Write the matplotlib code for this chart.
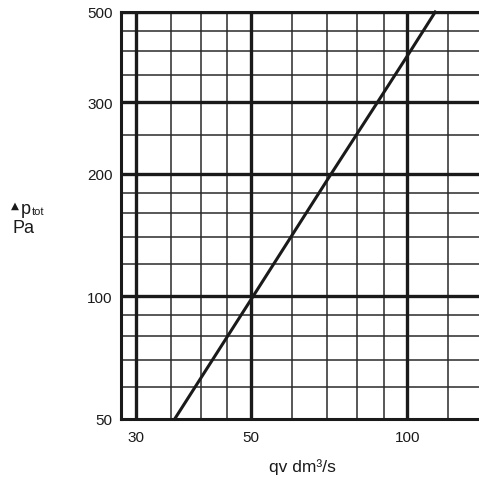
import matplotlib
matplotlib.use("Agg")
import matplotlib.pyplot as plt

plt.rcParams['font.family'] = ['Liberation Sans', 'DejaVu Sans']

# curve (flow dm3/s, pressure Pa)
qv = [35.6, 50.4, 71.3, 87.6, 101.3, 113.2]
ptot = [50, 100, 200, 300, 400, 500]

# grid lines
x_thin = [35, 40, 45, 60, 70, 80, 90, 120]
x_thick = [30, 50, 100]
y_thin = [60, 70, 80, 90, 120, 140, 160, 180, 250, 350, 400, 450]
y_thick = [100, 200, 300, 500]
x_ticks = [30, 50, 100]
y_ticks = [50, 100, 200, 300, 500]

fig = plt.figure(figsize=(4.79, 4.85), dpi=100)
ax = fig.add_axes([121 / 479, (485 - 420) / 485, 1 - 121 / 479, (420 - 13) / 485])
ax.set_xscale('log')
ax.set_yscale('log')
ax.set_xlim(28.05, 137.5)
ax.set_ylim(50, 500)

for x in x_thin:
    ax.axvline(x, color='#2a2a2a', lw=1.1, zorder=1)
for y in y_thin:
    ax.axhline(y, color='#2a2a2a', lw=1.1, zorder=1)
for x in x_thick:
    ax.axvline(x, color='#1a1a1a', lw=2.4, zorder=2)
for y in y_thick:
    ax.axhline(y, color='#1a1a1a', lw=2.4, zorder=2)

ax.plot(qv, ptot, color='#1a1a1a', lw=2.2, zorder=3, clip_on=False)

ax.spines['right'].set_visible(False)
for s in ['left', 'bottom', 'top']:
    ax.spines[s].set_linewidth(2.2)
    ax.spines[s].set_color('#1a1a1a')

ax.minorticks_off()
ax.set_xticks(x_ticks)
ax.set_xticklabels([str(v) for v in x_ticks])
ax.set_yticks(y_ticks)
ax.set_yticklabels([str(v) for v in y_ticks])
ax.tick_params(length=0, labelsize=11, colors='#1a1a1a')
ax.tick_params(axis='x', pad=8)
ax.tick_params(axis='y', pad=6)

fig.text(302 / 479, 1 - 467 / 485, 'qv dm³/s', ha='center', va='center', fontsize=12.5, color='#1a1a1a')

# y label: triangle, p with subscript tot, Pa below
fig.text(11 / 479, 1 - 206 / 485, '▲', fontsize=7.5, ha='left', va='center', color='#1a1a1a', family=['DejaVu Sans'])
fig.text(21 / 479, 1 - 209 / 485, 'p', fontsize=13, ha='left', va='center', color='#1a1a1a')
fig.text(32 / 479, 1 - 212 / 485, 'tot', fontsize=8, ha='left', va='center', color='#1a1a1a')
fig.text(13 / 479, 1 - 229 / 485, 'Pa', fontsize=13, ha='left', va='center', color='#1a1a1a')

fig.savefig('out.png', dpi=100)
